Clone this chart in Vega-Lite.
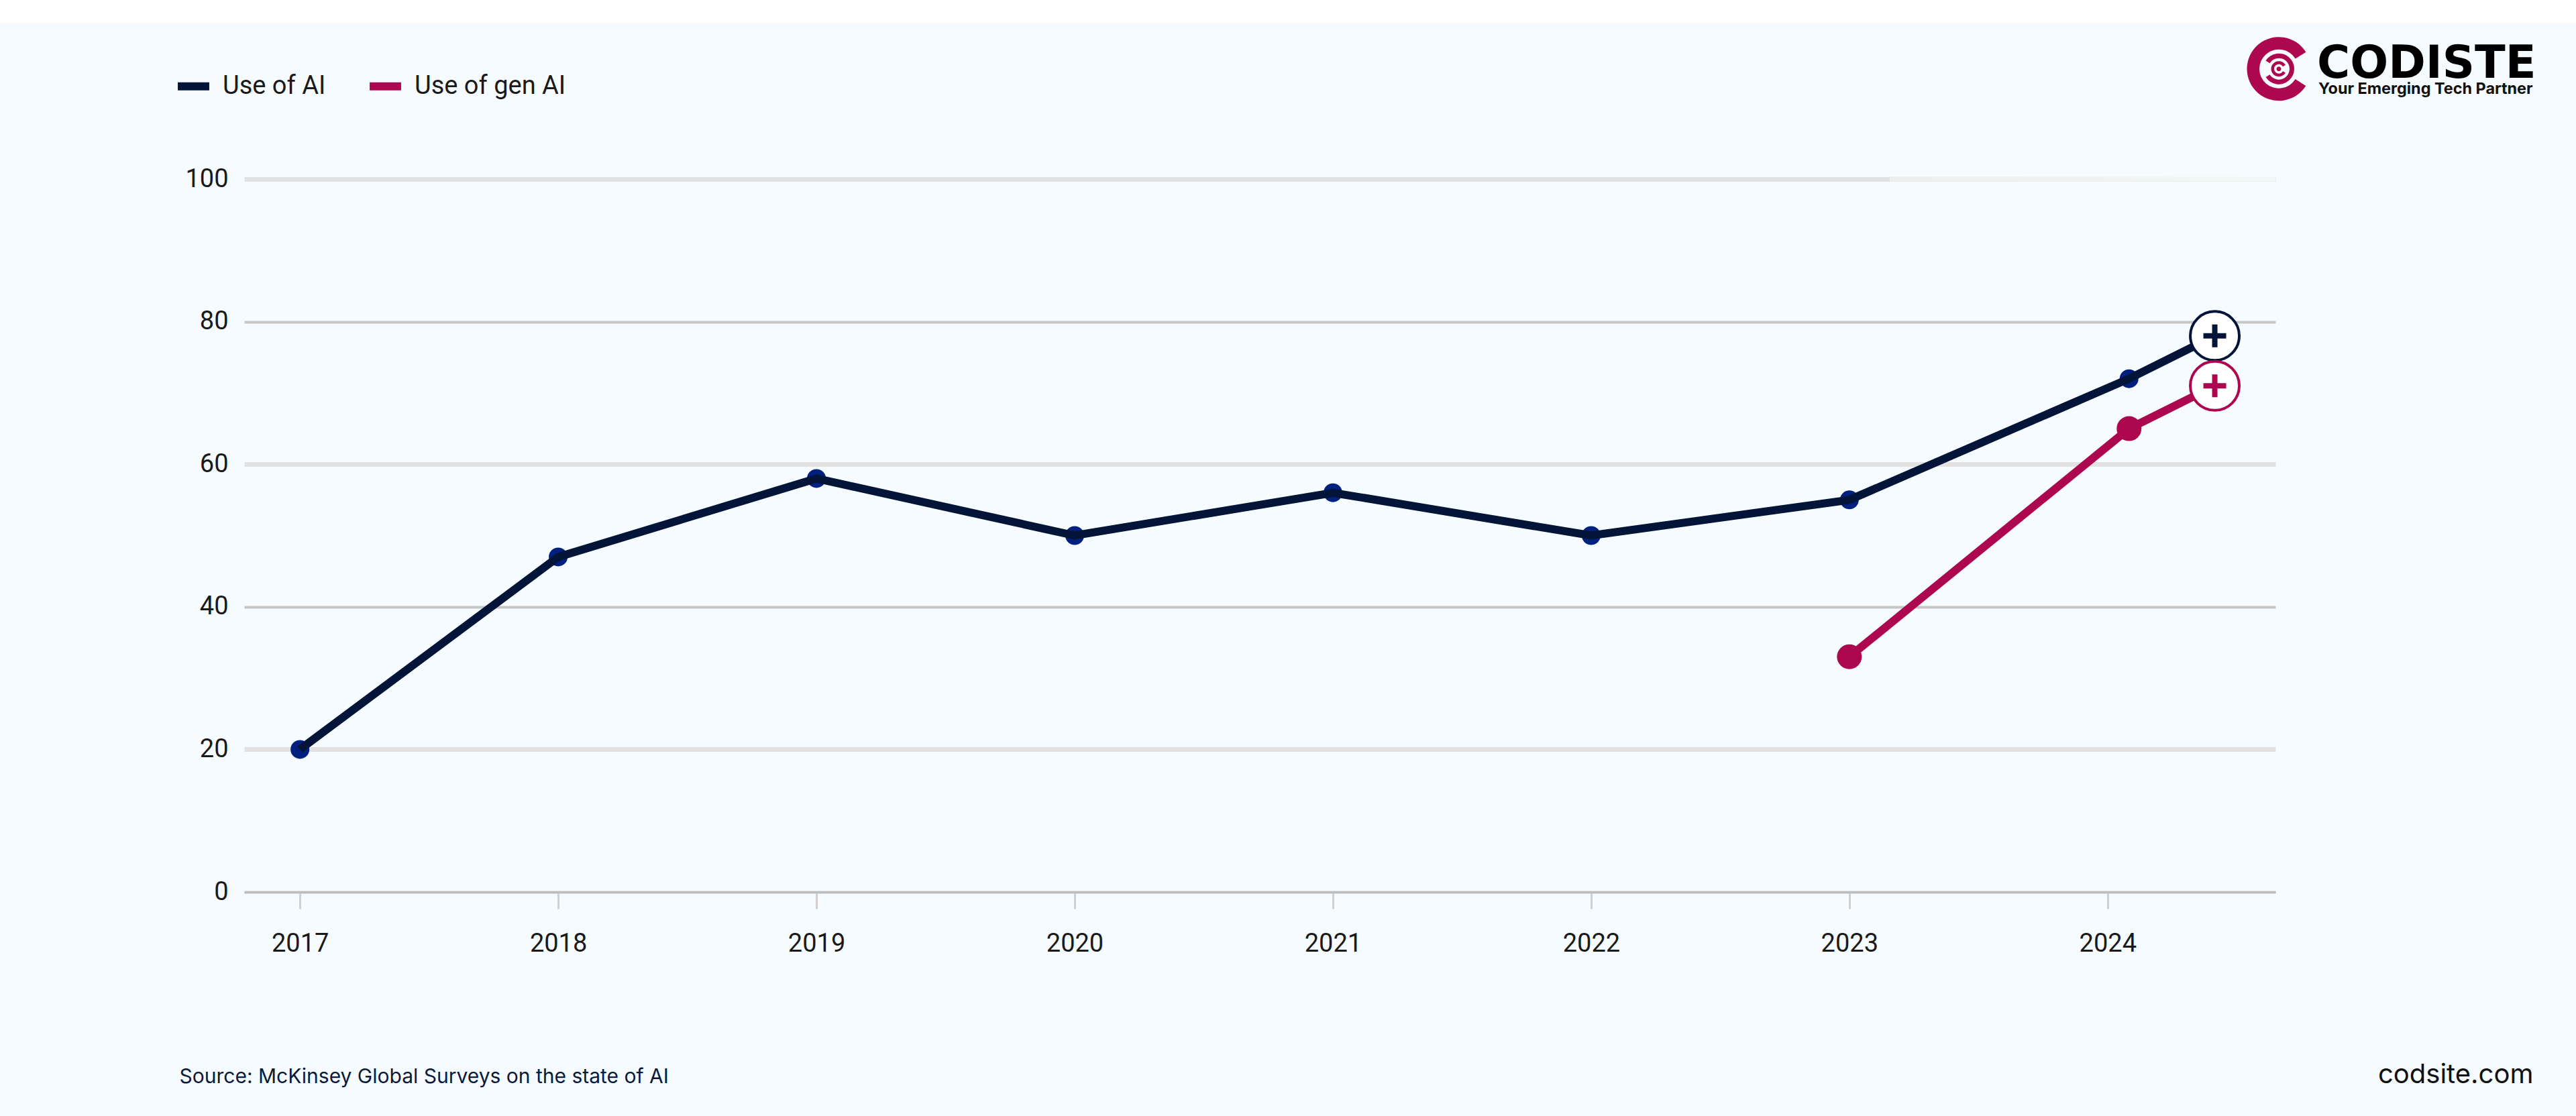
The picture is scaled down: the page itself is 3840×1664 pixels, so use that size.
{
"$schema":"https://vega.github.io/schema/vega-lite/v6.json",
"width":3028,"height":1063,
"autosize":"none",
"padding":{"left":364,"top":267,"right":448,"bottom":334},
"background":"#F6FBFF",
"config":{"view":{"stroke":null},"font":"Roboto"},
"datasets":{
"series":[
{"year":2017,"value":20,"series":"Use of AI"},
{"year":2018,"value":47,"series":"Use of AI"},
{"year":2019,"value":58,"series":"Use of AI"},
{"year":2020,"value":50,"series":"Use of AI"},
{"year":2021,"value":56,"series":"Use of AI"},
{"year":2022,"value":50,"series":"Use of AI"},
{"year":2023,"value":55,"series":"Use of AI"},
{"year":2024.083,"value":72,"series":"Use of AI"},
{"year":2024.415,"value":78,"series":"Use of AI","latest":true},
{"year":2023,"value":33,"series":"Use of gen AI"},
{"year":2024.083,"value":65,"series":"Use of gen AI"},
{"year":2024.415,"value":71,"series":"Use of gen AI","latest":true}
],
"one":[{"item":"annotation"}]
},
"layer":[
{"data":{"name":"one"},"mark":{"type":"rect","color":"#FFFFFF"},
 "encoding":{"x":{"value":-364},"x2":{"value":3476},"y":{"value":-267},"y2":{"value":-233}}},
{"data":{"name":"series"},"transform":[{"filter":"datum.series=='Use of AI' && !datum.latest"}],
 "mark":{"type":"point","filled":true,"size":784,"opacity":1,"color":"#00207F"},
 "encoding":{
  "x":{"field":"year","type":"quantitative","scale":{"domain":[2016.784,2024.65],"nice":false,"zero":false},
    "axis":{"values":[2017,2018,2019,2020,2021,2022,2023,2024],"format":"d","grid":false,"domain":true,"domainColor":"#BDBDBD","domainWidth":3,"tickColor":"#D0D0D0","tickWidth":3,"tickSize":25,"labelFont":"Roboto","labelFontSize":38,"labelColor":"#1A1A1A","labelPadding":33,"labelFlush":false,
      "title":"Source: McKinsey Global Surveys on the state of AI","titleFont":"Inter","titleFontSize":30,"titleFontWeight":400,"titleColor":"#0A1A3A","titleX":-97,"titleY":275,"titleAnchor":"start","titleAlign":"left","titleBaseline":"middle"}},
  "y":{"field":"value","type":"quantitative","scale":{"domain":[0,100],"nice":false},
    "axis":{"values":[0,20,40,60,80,100],"format":"d","domain":false,"ticks":false,"labelFont":"Roboto","labelFontSize":38,"labelColor":"#1A1A1A","labelPadding":24,"labelBaseline":"middle","labelFlush":false,
      "grid":true,"gridColor":{"condition":{"test":"datum.value==20||datum.value==60||datum.value==100","value":"#E3E2E2"},"value":"#C6C6C6"},"gridWidth":{"condition":{"test":"datum.value==20||datum.value==60||datum.value==100","value":7},"value":4},
      "title":"codsite.com","titleFont":"Inter","titleFontSize":40,"titleFontWeight":400,"titleColor":"#111111","titleAngle":0,"titleX":3412,"titleY":1335,"titleAlign":"right","titleBaseline":"middle"}}}},
{"data":{"name":"series"},
 "mark":{"type":"line","strokeWidth":12},
 "encoding":{
  "x":{"field":"year","type":"quantitative"},
  "y":{"field":"value","type":"quantitative"},
  "color":{"field":"series","type":"nominal","scale":{"domain":["Use of AI","Use of gen AI"],"range":["#021539","#AD084F"]},
    "legend":{"orient":"none","legendX":-105,"legendY":-168,"direction":"horizontal","title":null,"symbolType":"stroke","symbolStrokeWidth":12,"symbolSize":2200,"labelFont":"Roboto","labelFontSize":38,"labelLimit":500,"labelColor":"#1A1A1A","columnPadding":41,"labelOffset":14}}
 }},
{"data":{"name":"series"},"transform":[{"filter":"datum.series=='Use of gen AI' && !datum.latest"}],
 "mark":{"type":"point","filled":true,"size":1369,"opacity":1,"color":"#AD084F"},
 "encoding":{"x":{"field":"year","type":"quantitative"},"y":{"field":"value","type":"quantitative"}}},
{"data":{"name":"one"},
 "mark":{"type":"rect","color":{"gradient":"linear","x1":0,"x2":1,"y1":0,"y2":0,"stops":[{"offset":0,"color":"#EEEEEE"},{"offset":1,"color":"#F5F6F6"}]}},
 "encoding":{"x":{"datum":2023.156},"x2":{"datum":2024.65},"y":{"datum":99.65},"y2":{"datum":100.35}}},
{"data":{"name":"series"},"transform":[{"filter":"datum.latest"}],
 "mark":{"type":"point","filled":true,"fill":"#FFFFFF","size":5329,"strokeWidth":4,"opacity":1},
 "encoding":{"x":{"field":"year","type":"quantitative"},"y":{"field":"value","type":"quantitative"},
  "stroke":{"field":"series","type":"nominal","scale":{"domain":["Use of AI","Use of gen AI"],"range":["#021539","#AD084F"]},"legend":null}}},
{"data":{"name":"series"},"transform":[{"filter":"datum.latest"}],
 "mark":{"type":"point","filled":true,"size":1156,"opacity":1,"shape":"M-1,-0.235H-0.235V-1H0.235V-0.235H1V0.235H0.235V1H-0.235V0.235H-1Z"},
 "encoding":{"x":{"field":"year","type":"quantitative"},"y":{"field":"value","type":"quantitative"},
  "color":{"field":"series","type":"nominal","legend":null}}},
{"data":{"name":"one"},"mark":{"type":"arc","radius":47.5,"radius2":29,"theta":2.13,"theta2":7.30,"color":"#AD084F"},
 "encoding":{"x":{"value":3033},"y":{"value":-164.3}}},
{"data":{"name":"one"},"mark":{"type":"arc","radius":23,"radius2":16,"theta":-1.01,"theta2":4.15,"color":"#AD084F"},
 "encoding":{"x":{"value":3033},"y":{"value":-164.3}}},
{"data":{"name":"one"},"mark":{"type":"arc","radius":11.5,"radius2":7,"theta":2.09,"theta2":7.33,"color":"#AD084F"},
 "encoding":{"x":{"value":3033},"y":{"value":-164.3}}},
{"data":{"name":"one"},"mark":{"type":"arc","radius":3.5,"radius2":0,"theta":0,"theta2":6.283,"color":"#AD084F"},
 "encoding":{"x":{"value":3033},"y":{"value":-164.3}}},
{"data":{"name":"one"},"mark":{"type":"text","text":"CODISTE","font":"DejaVu Sans","fontWeight":"bold","fontSize":67,"align":"left","baseline":"alphabetic","color":"#000000"},
 "encoding":{"x":{"value":3090},"y":{"value":-151}}},
{"data":{"name":"one"},"mark":{"type":"text","text":"Your Emerging Tech Partner","font":"Inter","fontWeight":700,"fontSize":23.4,"align":"left","baseline":"alphabetic","color":"#111111"},
 "encoding":{"x":{"value":3092},"y":{"value":-127}}}
]
}
